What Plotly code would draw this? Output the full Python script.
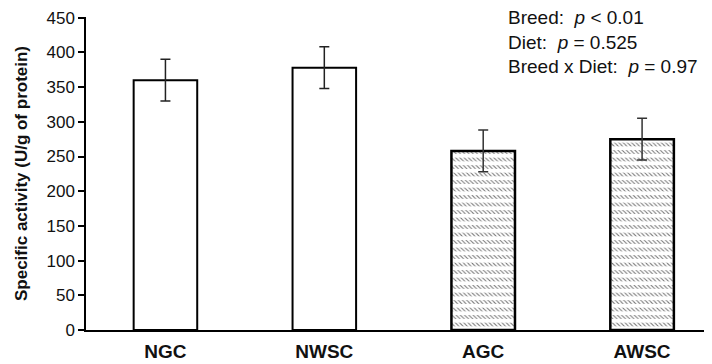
import plotly.graph_objects as go

categories = ["NGC", "NWSC", "AGC", "AWSC"]
values = [360, 378, 258, 275]
errors = [30, 30, 30, 30]
y_ticks = [0, 50, 100, 150, 200, 250, 300, 350, 400, 450]
stats_lines = ["Breed:  <i>p</i> < 0.01", "Diet:  <i>p</i> = 0.525", "Breed x Diet:  <i>p</i> = 0.97"]

FONT = "Liberation Sans, Arial, sans-serif"

fig = go.Figure()
# Plain bars
fig.add_trace(go.Bar(
    x=categories[:2], y=values[:2], width=0.40,
    marker=dict(color="white", line=dict(color="black", width=2)),
    error_y=dict(type="data", array=errors[:2], color="#222", thickness=1.5, width=5),
    showlegend=False,
))
# Hatched bars: fine diagonal texture
fig.add_trace(go.Bar(
    x=categories[2:], y=values[2:], width=0.40,
    marker=dict(color="white", line=dict(color="black", width=0),
                pattern=dict(shape="\\", fgcolor="#7a7a7a", bgcolor="white",
                             size=3, solidity=0.35, fillmode="replace")),
    showlegend=False,
))
# White horizontal gaps over the texture + outline + error bars
fig.add_trace(go.Bar(
    x=categories[2:], y=values[2:], width=0.40,
    marker=dict(color="rgba(0,0,0,0)", line=dict(color="black", width=2.5),
                pattern=dict(shape="-", fgcolor="white", bgcolor="rgba(0,0,0,0)",
                             size=7.5, solidity=0.5, fillmode="replace")),
    error_y=dict(type="data", array=errors[2:], color="#333", thickness=1.5, width=5),
    showlegend=False,
))

fig.add_annotation(
    x=0.671, y=1.0 + 12/313, xref="paper", yref="paper", xanchor="left", yanchor="top",
    text="<br>".join(stats_lines), align="left", showarrow=False,
    font=dict(family=FONT, size=19, color="#111"),
)

fig.update_layout(
    width=704, height=356,
    margin=dict(l=78, r=0, t=9, b=34),
    plot_bgcolor="white", paper_bgcolor="white",
    font=dict(family=FONT, color="#111"),
    barmode="overlay",
)
fig.update_xaxes(
    type="category", range=[-0.5, 3.44],
    showline=True, linecolor="black", linewidth=2,
    ticks="", tickfont=dict(family=FONT, size=19, color="#111"),
    tickprefix="<b>", ticksuffix="</b>", ticklabelstandoff=3,
)
fig.update_yaxes(
    range=[0, 451], tickvals=y_ticks,
    showline=True, linecolor="black", linewidth=1.5,
    ticks="outside", ticklen=6, tickwidth=1.5, tickcolor="black",
    showgrid=False, zeroline=False,
    tickfont=dict(family=FONT, size=17, color="#111"),
    title=dict(text="<b>Specific activity (U/g of protein)</b>",
               font=dict(family=FONT, size=17, color="#111"), standoff=15),
)

fig.write_html("out.html")
